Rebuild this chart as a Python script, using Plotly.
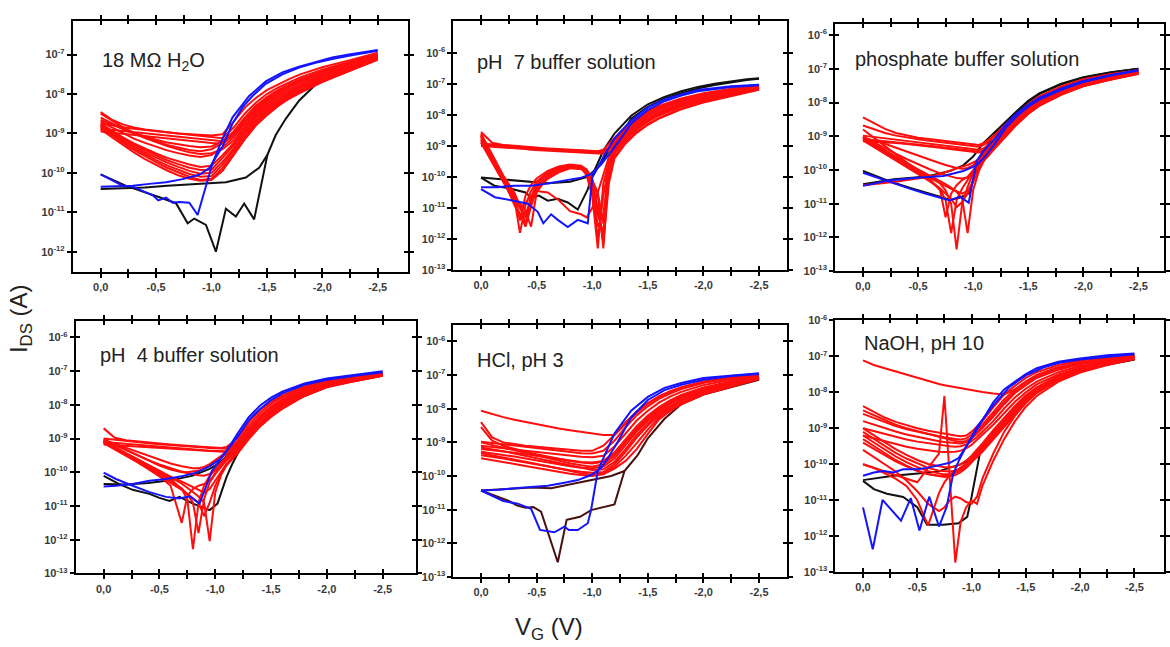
import plotly.graph_objects as go

# ---------------------------------------------------------------------------
# DATA  (gate voltage V_G in V, drain current given as log10(I_DS / A))
# ---------------------------------------------------------------------------

# ---- Panel 1 : 18 MOhm H2O -------------------------------------------------
h2o_vg = [0, -0.1, -0.2, -0.3, -0.4, -0.5, -0.6, -0.7, -0.8, -0.9, -1.0, -1.1, -1.2,
          -1.3, -1.4, -1.5, -1.6, -1.7, -1.8, -2.0, -2.25, -2.5]
h2o_red = [
    [-8.46, -8.65, -8.77, -8.85, -8.90, -8.94, -8.97, -9.00, -9.02, -9.04, -9.05, -9.02, -8.70, -8.35, -8.10, -7.90, -7.75, -7.62, -7.50, -7.32, -7.14, -6.95],
    [-8.75, -8.80, -8.84, -8.88, -8.91, -8.94, -8.97, -9.00, -9.03, -9.06, -9.09, -9.12, -8.85, -8.50, -8.22, -8.00, -7.84, -7.70, -7.58, -7.38, -7.18, -6.98],
    [-8.88, -8.91, -8.94, -8.97, -9.00, -9.03, -9.06, -9.09, -9.12, -9.15, -9.18, -9.20, -8.95, -8.60, -8.30, -8.08, -7.90, -7.76, -7.63, -7.42, -7.21, -7.00],
    [-8.95, -8.98, -9.01, -9.04, -9.07, -9.10, -9.13, -9.16, -9.19, -9.22, -9.24, -9.26, -9.05, -8.70, -8.40, -8.16, -7.97, -7.82, -7.69, -7.47, -7.24, -7.02],
    [-8.60, -8.75, -8.88, -8.99, -9.08, -9.16, -9.23, -9.28, -9.32, -9.35, -9.33, -9.20, -8.98, -8.65, -8.35, -8.12, -7.94, -7.80, -7.67, -7.46, -7.23, -7.01],
    [-8.70, -8.85, -9.00, -9.13, -9.24, -9.34, -9.43, -9.50, -9.56, -9.60, -9.55, -9.35, -9.10, -8.75, -8.45, -8.22, -8.03, -7.88, -7.75, -7.52, -7.27, -7.04],
    [-8.75, -8.93, -9.10, -9.25, -9.39, -9.51, -9.62, -9.71, -9.79, -9.85, -9.82, -9.55, -9.25, -8.88, -8.55, -8.32, -8.12, -7.96, -7.82, -7.58, -7.31, -7.07],
    [-8.80, -8.98, -9.16, -9.33, -9.48, -9.62, -9.74, -9.85, -9.95, -10.02, -10.00, -9.72, -9.38, -9.00, -8.66, -8.42, -8.20, -8.03, -7.89, -7.63, -7.36, -7.10],
    [-8.85, -9.05, -9.24, -9.42, -9.58, -9.73, -9.87, -9.99, -10.10, -10.18, -10.15, -9.88, -9.50, -9.10, -8.75, -8.50, -8.28, -8.10, -7.95, -7.68, -7.40, -7.12],
    [-8.50, -8.68, -8.84, -8.98, -9.10, -9.20, -9.29, -9.36, -9.42, -9.45, -9.40, -9.25, -9.02, -8.70, -8.40, -8.17, -7.98, -7.83, -7.70, -7.49, -7.25, -7.02],
    [-8.78, -8.95, -9.12, -9.28, -9.43, -9.56, -9.68, -9.78, -9.87, -9.93, -9.92, -9.62, -9.30, -8.94, -8.60, -8.37, -8.16, -7.99, -7.85, -7.60, -7.33, -7.08],
    [-8.82, -9.02, -9.20, -9.37, -9.53, -9.68, -9.81, -9.93, -10.03, -10.10, -10.08, -9.80, -9.44, -9.05, -8.70, -8.46, -8.24, -8.06, -7.92, -7.65, -7.38, -7.11],
    [-8.66, -8.78, -8.90, -9.02, -9.12, -9.22, -9.32, -9.40, -9.48, -9.52, -9.50, -9.40, -9.18, -8.82, -8.50, -8.27, -8.07, -7.92, -7.79, -7.55, -7.29, -7.05],
    [-8.90, -9.10, -9.30, -9.48, -9.65, -9.80, -9.94, -10.06, -10.15, -10.20, -10.18, -9.95, -9.56, -9.15, -8.80, -8.54, -8.31, -8.12, -7.97, -7.70, -7.41, -7.13],
]
h2o_black_rev_v = [0, -0.2, -0.4, -0.6, -0.8, -1.0, -1.13, -1.31, -1.43, -1.505, -1.58, -1.67, -1.79, -1.94, -2.09, -2.24, -2.39, -2.5]
h2o_black_rev_e = [-10.41, -10.39, -10.37, -10.33, -10.30, -10.27, -10.24, -10.12, -9.87, -9.54, -9.04, -8.63, -8.17, -7.76, -7.47, -7.26, -7.12, -7.04]
h2o_black_fwd_v = [0, -0.23, -0.53, -0.68, -0.785, -0.845, -0.95, -1.04, -1.13, -1.22, -1.295, -1.385, -1.505]
h2o_black_fwd_e = [-10.04, -10.33, -10.62, -10.77, -11.28, -11.16, -11.32, -12.0, -10.91, -11.11, -10.78, -11.18, -9.54]
h2o_blue_fwd_v = [0, -0.11, -0.2, -0.29, -0.38, -0.47, -0.52, -0.59, -0.65, -0.71, -0.8, -0.875, -1.01, -1.1, -1.19, -1.34, -1.49, -1.64, -1.79, -1.94, -2.09, -2.24, -2.39, -2.5]
h2o_blue_fwd_e = [-10.04, -10.20, -10.33, -10.35, -10.45, -10.57, -10.70, -10.63, -10.76, -10.74, -10.76, -11.07, -9.75, -9.13, -8.59, -8.05, -7.68, -7.45, -7.31, -7.18, -7.07, -7.00, -6.93, -6.88]
h2o_blue_rev_v = [0, -0.14, -0.29, -0.44, -0.59, -0.74, -0.89, -0.98, -1.04, -1.1, -1.19, -1.28, -1.37, -1.49, -1.64, -1.79, -1.94, -2.09, -2.24, -2.39, -2.5]
h2o_blue_rev_e = [-10.35, -10.34, -10.33, -10.28, -10.24, -10.16, -10.05, -9.88, -9.62, -9.33, -8.75, -8.34, -8.05, -7.74, -7.50, -7.33, -7.21, -7.11, -7.03, -6.96, -6.90]

# ---- Panel 2 : pH 7 buffer solution ---------------------------------------
ph7_vg = [0, -0.1, -0.2, -0.3, -0.35, -0.4, -0.45, -0.5, -0.6, -0.7, -0.8, -0.9, -0.95,
          -1.0, -1.05, -1.1, -1.15, -1.2, -1.3, -1.4, -1.5, -1.6, -1.8, -2.0, -2.25, -2.5]
ph7_red = [
    [-8.55, -8.90, -8.97, -9.00, -9.02, -9.04, -9.05, -9.06, -9.08, -9.10, -9.12, -9.14, -9.15, -9.16, -9.17, -9.12, -8.95, -8.75, -8.38, -8.10, -7.88, -7.71, -7.47, -7.30, -7.16, -7.03],
    [-8.92, -8.95, -8.98, -9.01, -9.03, -9.05, -9.07, -9.08, -9.10, -9.12, -9.14, -9.16, -9.17, -9.18, -9.19, -9.18, -9.05, -8.85, -8.45, -8.16, -7.93, -7.75, -7.51, -7.33, -7.19, -7.05],
    [-9.00, -9.02, -9.05, -9.07, -9.09, -9.10, -9.12, -9.13, -9.15, -9.17, -9.19, -9.20, -9.21, -9.22, -9.23, -9.25, -9.15, -8.95, -8.55, -8.24, -8.00, -7.82, -7.56, -7.38, -7.22, -7.08],
    [-8.96, -8.99, -9.02, -9.04, -9.06, -9.08, -9.09, -9.11, -9.13, -9.15, -9.17, -9.19, -9.20, -9.21, -9.22, -9.22, -9.10, -8.90, -8.50, -8.20, -7.96, -7.78, -7.53, -7.35, -7.20, -7.06],
    [-8.60, -9.30, -9.95, -10.50, -10.95, -11.50, -10.80, -10.30, -9.95, -9.75, -9.62, -9.70, -9.95, -10.60, -12.30, -10.20, -9.50, -9.05, -8.65, -8.35, -8.12, -7.93, -7.66, -7.47, -7.28, -7.12],
    [-8.70, -9.40, -10.05, -10.70, -11.80, -10.90, -10.45, -10.15, -9.85, -9.70, -9.65, -9.68, -9.80, -10.20, -10.60, -12.30, -9.80, -9.25, -8.80, -8.48, -8.22, -8.02, -7.74, -7.53, -7.33, -7.15],
    [-8.80, -9.45, -10.10, -10.60, -10.85, -11.10, -11.60, -10.50, -10.00, -9.80, -9.68, -9.72, -9.90, -10.35, -12.00, -10.60, -9.60, -9.15, -8.75, -8.42, -8.18, -7.98, -7.70, -7.50, -7.30, -7.13],
    [-8.90, -9.55, -10.20, -10.80, -11.20, -11.30, -10.70, -10.35, -10.05, -9.85, -9.72, -9.75, -9.85, -10.10, -10.50, -11.50, -10.00, -9.35, -8.88, -8.55, -8.30, -8.10, -7.80, -7.58, -7.37, -7.18],
    [-8.85, -9.50, -10.15, -10.75, -11.00, -10.85, -10.60, -10.45, -10.50, -10.75, -11.10, -11.20, -11.30, -11.00, -10.50, -9.90, -9.35, -9.00, -8.60, -8.30, -8.06, -7.88, -7.61, -7.43, -7.25, -7.10],
    [-8.65, -9.35, -10.00, -10.65, -11.40, -10.60, -10.25, -10.05, -9.80, -9.66, -9.60, -9.64, -9.76, -10.05, -11.20, -11.80, -9.70, -9.20, -8.72, -8.40, -8.16, -7.96, -7.68, -7.48, -7.29, -7.12],
    [-8.75, -9.42, -10.08, -10.90, -11.20, -11.60, -10.95, -10.40, -10.05, -9.82, -9.70, -9.72, -9.85, -10.25, -11.00, -12.10, -10.20, -9.40, -8.92, -8.58, -8.32, -8.12, -7.82, -7.60, -7.39, -7.19],
    [-8.68, -9.38, -10.02, -10.62, -11.00, -11.25, -10.65, -10.20, -9.90, -9.72, -9.64, -9.66, -9.78, -10.15, -11.60, -11.20, -9.65, -9.10, -8.70, -8.44, -8.20, -8.00, -7.72, -7.51, -7.31, -7.14],
]
ph7_black_fwd_v = [0, -0.12, -0.27, -0.4, -0.45, -0.52, -0.6, -0.69, -0.78, -0.87, -0.96, -1.0, -1.05, -1.1, -1.2, -1.35, -1.5, -1.65, -1.8, -1.95, -2.1, -2.25, -2.39, -2.5]
ph7_black_fwd_e = [-10.02, -10.28, -10.38, -10.50, -10.66, -10.60, -10.76, -10.70, -10.82, -11.05, -10.40, -9.95, -9.55, -9.15, -8.60, -8.03, -7.66, -7.42, -7.24, -7.10, -7.00, -6.92, -6.85, -6.82]
ph7_black_rev_v = [0, -0.3, -0.6, -0.8, -0.95, -1.05, -1.15, -1.25, -1.35, -1.5, -1.65, -1.8, -1.95, -2.1, -2.25, -2.39, -2.5]
ph7_black_rev_e = [-10.02, -10.12, -10.20, -10.15, -10.00, -9.70, -9.15, -8.70, -8.12, -7.74, -7.48, -7.30, -7.15, -7.04, -6.95, -6.88, -6.84]
ph7_blue_fwd_v = [0, -0.125, -0.27, -0.42, -0.51, -0.56, -0.63, -0.69, -0.78, -0.87, -0.96, -1.0, -1.05, -1.11, -1.2, -1.35, -1.5, -1.65, -1.8, -1.95, -2.25, -2.5]
ph7_blue_fwd_e = [-10.39, -10.65, -10.75, -10.86, -11.12, -11.49, -11.20, -11.38, -11.61, -11.38, -11.49, -10.02, -9.70, -9.28, -8.76, -8.18, -7.76, -7.50, -7.34, -7.20, -7.08, -7.03]
ph7_blue_rev_v = [0, -0.15, -0.3, -0.45, -0.6, -0.75, -0.9, -0.99, -1.08, -1.17, -1.25, -1.35, -1.5, -1.65, -1.8, -1.95, -2.25, -2.5]
ph7_blue_rev_e = [-10.33, -10.33, -10.28, -10.28, -10.21, -10.12, -10.02, -9.91, -9.60, -9.18, -8.80, -8.28, -7.84, -7.56, -7.38, -7.24, -7.10, -7.05]

# ---- Panel 3 : phosphate buffer solution ----------------------------------
pbs_vg = [0, -0.1, -0.2, -0.3, -0.4, -0.5, -0.6, -0.7, -0.75, -0.8, -0.85, -0.9, -0.95,
          -1.0, -1.05, -1.1, -1.2, -1.3, -1.4, -1.5, -1.6, -1.8, -2.0, -2.25, -2.5]
pbs_red = [
    [-8.44, -8.62, -8.78, -8.90, -8.98, -9.04, -9.08, -9.12, -9.14, -9.16, -9.18, -9.20, -9.22, -9.24, -9.26, -9.20, -8.95, -8.62, -8.32, -8.04, -7.82, -7.52, -7.31, -7.15, -7.04],
    [-8.68, -8.80, -8.90, -8.98, -9.04, -9.09, -9.13, -9.17, -9.19, -9.21, -9.23, -9.25, -9.27, -9.29, -9.31, -9.25, -9.00, -8.68, -8.37, -8.08, -7.85, -7.55, -7.33, -7.17, -7.05],
    [-8.98, -9.02, -9.06, -9.10, -9.14, -9.18, -9.22, -9.26, -9.28, -9.30, -9.32, -9.34, -9.36, -9.38, -9.40, -9.35, -9.08, -8.75, -8.43, -8.14, -7.90, -7.59, -7.36, -7.19, -7.07],
    [-9.08, -9.11, -9.14, -9.17, -9.20, -9.24, -9.28, -9.32, -9.34, -9.36, -9.38, -9.40, -9.42, -9.44, -9.45, -9.42, -9.15, -8.82, -8.50, -8.20, -7.96, -7.64, -7.40, -7.22, -7.09],
    [-9.15, -9.16, -9.18, -9.20, -9.23, -9.26, -9.30, -9.34, -9.36, -9.38, -9.40, -9.42, -9.44, -9.46, -9.48, -9.46, -9.22, -8.88, -8.56, -8.25, -8.00, -7.67, -7.42, -7.24, -7.10],
    [-9.00, -9.18, -9.35, -9.52, -9.68, -9.83, -9.97, -10.10, -10.15, -10.20, -10.24, -10.25, -10.22, -10.10, -9.90, -9.65, -9.25, -8.88, -8.55, -8.26, -8.02, -7.70, -7.46, -7.27, -7.12],
    [-9.05, -9.25, -9.45, -9.64, -9.82, -10.00, -10.18, -10.40, -10.60, -11.00, -12.35, -11.00, -10.50, -10.10, -9.85, -9.60, -9.28, -8.92, -8.60, -8.30, -8.06, -7.74, -7.50, -7.30, -7.14],
    [-9.10, -9.30, -9.50, -9.70, -9.90, -10.08, -10.28, -10.55, -10.90, -11.87, -10.90, -10.55, -10.30, -10.05, -9.80, -9.55, -9.22, -8.90, -8.58, -8.28, -8.05, -7.72, -7.48, -7.29, -7.13],
    [-9.02, -9.22, -9.42, -9.62, -9.80, -9.98, -10.15, -10.32, -10.42, -10.52, -10.65, -10.85, -11.87, -10.60, -10.05, -9.70, -9.32, -8.95, -8.62, -8.32, -8.08, -7.75, -7.50, -7.31, -7.14],
    [-9.05, -9.26, -9.47, -9.67, -9.87, -10.05, -10.22, -10.40, -10.48, -10.56, -10.63, -10.70, -10.62, -10.35, -10.00, -9.72, -9.35, -8.98, -8.64, -8.34, -8.10, -7.77, -7.52, -7.32, -7.15],
    [-9.12, -9.32, -9.52, -9.72, -9.92, -10.12, -10.32, -10.55, -10.70, -10.85, -11.10, -10.95, -10.70, -10.30, -9.95, -9.68, -9.30, -8.94, -8.61, -8.31, -8.07, -7.75, -7.51, -7.31, -7.14],
    [-8.80, -9.05, -9.30, -9.55, -9.78, -10.00, -10.25, -10.60, -11.40, -10.70, -10.45, -10.30, -10.20, -10.00, -9.78, -9.55, -9.20, -8.86, -8.54, -8.25, -8.02, -7.70, -7.47, -7.28, -7.13],
    [-10.45, -10.42, -10.38, -10.35, -10.30, -10.26, -10.20, -10.12, -10.06, -10.00, -9.95, -9.90, -9.85, -9.78, -9.70, -9.55, -9.25, -8.90, -8.58, -8.29, -8.06, -7.74, -7.50, -7.30, -7.14],
    [-9.04, -9.12, -9.22, -9.34, -9.46, -9.58, -9.70, -9.80, -9.85, -9.90, -9.94, -9.96, -9.94, -9.86, -9.72, -9.52, -9.18, -8.84, -8.52, -8.22, -7.98, -7.66, -7.43, -7.25, -7.11],
]
pbs_black_fwd_v = [0, -0.13, -0.28, -0.43, -0.58, -0.7, -0.79, -0.87, -0.96, -1.0, -1.05, -1.1, -1.2, -1.3, -1.4, -1.5, -1.6, -1.8, -2.0, -2.25, -2.5]
pbs_black_fwd_e = [-10.03, -10.20, -10.38, -10.53, -10.68, -10.80, -10.88, -10.83, -10.70, -10.30, -9.80, -9.40, -8.92, -8.57, -8.27, -7.98, -7.75, -7.46, -7.26, -7.11, -7.00]
pbs_black_rev_v = [0, -0.28, -0.58, -0.79, -0.91, -1.0, -1.09, -1.2, -1.3, -1.4, -1.5, -1.6, -1.8, -2.0, -2.25, -2.5]
pbs_black_rev_e = [-10.42, -10.27, -10.19, -10.03, -9.86, -9.60, -9.21, -8.87, -8.53, -8.24, -7.95, -7.73, -7.44, -7.25, -7.10, -7.00]
pbs_blue_fwd_v = [0, -0.13, -0.28, -0.43, -0.58, -0.73, -0.79, -0.88, -0.96, -1.03, -1.09, -1.2, -1.3, -1.4, -1.5, -1.6, -1.8, -2.0, -2.25, -2.5]
pbs_blue_fwd_e = [-10.08, -10.23, -10.40, -10.56, -10.71, -10.86, -10.90, -10.79, -10.97, -9.74, -9.45, -9.07, -8.63, -8.31, -8.07, -7.86, -7.58, -7.36, -7.18, -7.03]
pbs_blue_rev_v = [0, -0.22, -0.49, -0.73, -0.91, -1.03, -1.11, -1.2, -1.3, -1.4, -1.5, -1.6, -1.8, -2.0, -2.25, -2.5]
pbs_blue_rev_e = [-10.47, -10.32, -10.23, -10.18, -10.03, -9.86, -9.60, -9.21, -8.73, -8.39, -8.12, -7.91, -7.62, -7.39, -7.20, -7.05]

# ---- Panel 4 : pH 4 buffer solution ---------------------------------------
ph4_vg = [0, -0.1, -0.2, -0.3, -0.4, -0.5, -0.6, -0.7, -0.75, -0.8, -0.85, -0.9, -0.95,
          -1.0, -1.05, -1.1, -1.2, -1.3, -1.4, -1.5, -1.6, -1.8, -2.0, -2.25, -2.5]
ph4_red = [
    [-8.70, -8.98, -9.05, -9.09, -9.12, -9.15, -9.18, -9.21, -9.22, -9.23, -9.24, -9.25, -9.26, -9.27, -9.28, -9.25, -9.00, -8.52, -8.17, -7.92, -7.72, -7.46, -7.29, -7.17, -7.05],
    [-9.00, -9.04, -9.08, -9.11, -9.14, -9.17, -9.20, -9.23, -9.24, -9.25, -9.26, -9.27, -9.28, -9.29, -9.30, -9.30, -9.10, -8.62, -8.25, -7.98, -7.77, -7.50, -7.32, -7.19, -7.07],
    [-9.10, -9.13, -9.16, -9.19, -9.22, -9.25, -9.28, -9.31, -9.32, -9.33, -9.34, -9.35, -9.36, -9.37, -9.38, -9.38, -9.20, -8.72, -8.33, -8.05, -7.83, -7.54, -7.35, -7.21, -7.08],
    [-9.18, -9.20, -9.22, -9.25, -9.27, -9.30, -9.32, -9.34, -9.35, -9.36, -9.37, -9.38, -9.39, -9.40, -9.41, -9.40, -9.25, -8.80, -8.40, -8.10, -7.87, -7.57, -7.37, -7.22, -7.09],
    [-9.05, -9.20, -9.35, -9.50, -9.64, -9.77, -9.88, -9.98, -10.02, -10.06, -10.09, -10.10, -10.05, -9.90, -9.72, -9.55, -9.20, -8.80, -8.45, -8.17, -7.95, -7.62, -7.40, -7.24, -7.10],
    [-9.10, -9.28, -9.46, -9.64, -9.82, -10.00, -10.20, -10.50, -10.80, -12.28, -10.90, -10.40, -10.10, -9.95, -9.80, -9.60, -9.30, -8.90, -8.55, -8.27, -8.03, -7.68, -7.44, -7.27, -7.12],
    [-9.12, -9.30, -9.48, -9.67, -9.86, -10.05, -10.25, -10.48, -10.65, -10.90, -11.80, -10.80, -10.30, -10.05, -9.85, -9.65, -9.35, -8.95, -8.58, -8.30, -8.06, -7.70, -7.46, -7.28, -7.13],
    [-9.08, -9.25, -9.42, -9.60, -9.78, -9.96, -10.14, -10.34, -10.46, -10.58, -10.72, -10.90, -12.04, -10.60, -10.10, -9.80, -9.45, -9.02, -8.65, -8.36, -8.12, -7.74, -7.48, -7.30, -7.14],
    [-9.06, -9.26, -9.46, -9.68, -9.90, -10.12, -10.40, -11.50, -10.70, -10.50, -10.40, -10.35, -10.25, -10.05, -9.85, -9.62, -9.28, -8.88, -8.52, -8.24, -8.01, -7.66, -7.43, -7.26, -7.11],
    [-9.10, -9.27, -9.45, -9.63, -9.80, -9.97, -10.13, -10.28, -10.36, -10.44, -10.52, -10.60, -10.50, -10.25, -10.00, -9.75, -9.40, -8.98, -8.62, -8.33, -8.09, -7.72, -7.47, -7.29, -7.13],
    [-9.02, -9.18, -9.34, -9.50, -9.65, -9.80, -9.92, -10.00, -10.00, -9.98, -9.95, -9.90, -9.82, -9.70, -9.58, -9.45, -9.12, -8.75, -8.40, -8.13, -7.92, -7.60, -7.38, -7.23, -7.09],
    [-9.14, -9.32, -9.50, -9.70, -9.90, -10.10, -10.30, -10.52, -10.64, -10.76, -10.90, -11.30, -10.90, -10.40, -10.05, -9.78, -9.42, -9.00, -8.62, -8.33, -8.09, -7.72, -7.47, -7.29, -7.13],
    [-9.04, -9.16, -9.28, -9.40, -9.52, -9.64, -9.74, -9.82, -9.86, -9.88, -9.88, -9.84, -9.76, -9.64, -9.52, -9.40, -9.08, -8.70, -8.36, -8.10, -7.90, -7.59, -7.37, -7.22, -7.09],
]
ph4_black_fwd_v = [0, -0.14, -0.26, -0.41, -0.5, -0.59, -0.68, -0.8, -0.89, -0.95, -1.02, -1.1, -1.15, -1.24, -1.4, -1.6, -1.8, -2.05, -2.5]
ph4_black_fwd_e = [-10.11, -10.35, -10.52, -10.64, -10.76, -10.85, -10.73, -10.93, -11.04, -11.12, -10.93, -10.15, -9.77, -9.19, -8.40, -8.05, -7.74, -7.40, -7.08]
ph4_black_rev_v = [0, -0.2, -0.4, -0.6, -0.8, -0.95, -1.05, -1.15, -1.25, -1.4, -1.6, -1.8, -2.0, -2.25, -2.5]
ph4_black_rev_e = [-10.35, -10.36, -10.32, -10.24, -10.10, -9.90, -9.70, -9.35, -8.90, -8.40, -7.95, -7.62, -7.40, -7.22, -7.08]
ph4_blue_fwd_v = [0, -0.11, -0.26, -0.41, -0.56, -0.68, -0.77, -0.86, -0.97, -1.09, -1.2, -1.3, -1.4, -1.5, -1.6, -1.8, -2.0, -2.25, -2.5]
ph4_blue_fwd_e = [-10.01, -10.20, -10.40, -10.59, -10.73, -10.78, -10.71, -10.93, -9.96, -9.43, -8.85, -8.37, -8.03, -7.79, -7.61, -7.37, -7.22, -7.11, -7.01]
ph4_blue_rev_v = [0, -0.11, -0.26, -0.41, -0.56, -0.71, -0.83, -0.95, -1.04, -1.13, -1.2, -1.3, -1.4, -1.5, -1.6, -1.8, -2.0, -2.25, -2.5]
ph4_blue_rev_e = [-10.42, -10.40, -10.35, -10.25, -10.20, -10.11, -10.01, -9.82, -9.62, -9.24, -8.95, -8.46, -8.13, -7.86, -7.66, -7.41, -7.26, -7.14, -7.04]

# ---- Panel 5 : HCl, pH 3 ---------------------------------------------------
hcl_vg = [0, -0.1, -0.2, -0.3, -0.4, -0.5, -0.6, -0.7, -0.8, -0.9, -1.0, -1.1, -1.2,
          -1.3, -1.4, -1.5, -1.6, -1.7, -1.8, -2.0, -2.25, -2.5]
hcl_red = [
    [-8.06, -8.16, -8.25, -8.33, -8.40, -8.47, -8.53, -8.59, -8.64, -8.69, -8.74, -8.78, -8.78, -8.45, -8.12, -7.86, -7.66, -7.50, -7.38, -7.21, -7.07, -6.98],
    [-8.40, -8.85, -9.00, -9.06, -9.10, -9.13, -9.16, -9.19, -9.22, -9.25, -9.25, -9.10, -8.78, -8.40, -8.08, -7.83, -7.63, -7.48, -7.36, -7.19, -7.06, -6.97],
    [-8.98, -9.02, -9.06, -9.10, -9.14, -9.18, -9.22, -9.26, -9.29, -9.32, -9.33, -9.25, -8.95, -8.55, -8.20, -7.93, -7.71, -7.55, -7.42, -7.24, -7.10, -7.00],
    [-9.10, -9.13, -9.17, -9.21, -9.25, -9.29, -9.33, -9.37, -9.40, -9.43, -9.44, -9.40, -9.12, -8.72, -8.35, -8.06, -7.82, -7.64, -7.50, -7.30, -7.14, -7.03],
    [-9.20, -9.23, -9.27, -9.31, -9.35, -9.40, -9.45, -9.50, -9.54, -9.58, -9.60, -9.55, -9.30, -8.90, -8.52, -8.20, -7.95, -7.75, -7.59, -7.37, -7.19, -7.06],
    [-9.28, -9.32, -9.37, -9.42, -9.48, -9.54, -9.60, -9.66, -9.71, -9.75, -9.77, -9.72, -9.48, -9.08, -8.68, -8.35, -8.08, -7.86, -7.68, -7.43, -7.24, -7.09],
    [-9.38, -9.42, -9.48, -9.54, -9.60, -9.66, -9.72, -9.78, -9.83, -9.87, -9.90, -9.88, -9.65, -9.28, -8.86, -8.50, -8.20, -7.97, -7.77, -7.50, -7.28, -7.11],
    [-9.47, -9.52, -9.58, -9.64, -9.70, -9.76, -9.82, -9.88, -9.93, -9.97, -10.00, -9.95, -9.78, -9.55, -9.20, -8.75, -8.32, -8.07, -7.87, -7.58, -7.36, -7.12],
    [-9.00, -9.08, -9.16, -9.24, -9.32, -9.40, -9.48, -9.56, -9.62, -9.68, -9.72, -9.65, -9.40, -9.00, -8.62, -8.30, -8.03, -7.82, -7.65, -7.41, -7.22, -7.08],
    [-8.55, -8.95, -9.10, -9.20, -9.28, -9.35, -9.42, -9.49, -9.55, -9.60, -9.63, -9.58, -9.35, -8.95, -8.58, -8.27, -8.00, -7.80, -7.63, -7.40, -7.21, -7.07],
    [-9.15, -9.20, -9.26, -9.33, -9.40, -9.47, -9.55, -9.63, -9.70, -9.77, -9.82, -9.80, -9.58, -9.20, -8.78, -8.43, -8.14, -7.92, -7.73, -7.47, -7.26, -7.10],
    [-9.32, -9.38, -9.44, -9.50, -9.57, -9.64, -9.71, -9.78, -9.85, -9.92, -9.96, -9.92, -9.72, -9.40, -9.02, -8.62, -8.26, -8.02, -7.82, -7.54, -7.32, -7.11],
]
hcl_black_fwd_v = [0, -0.16, -0.25, -0.32, -0.4, -0.47, -0.54, -0.69, -0.77, -0.89, -0.99, -1.2, -1.29, -1.41, -1.5, -1.65, -1.8, -2.0, -2.25, -2.5]
hcl_black_fwd_e = [-10.43, -10.63, -10.74, -10.87, -10.94, -10.92, -11.06, -12.56, -11.30, -11.21, -11.01, -10.84, -9.85, -9.37, -8.88, -8.30, -7.87, -7.58, -7.36, -7.14]
hcl_black_rev_v = [0, -0.27, -0.45, -0.63, -0.81, -0.99, -1.17, -1.29]
hcl_black_rev_e = [-10.43, -10.38, -10.34, -10.36, -10.24, -10.12, -10.00, -9.85]
hcl_blue_fwd_v = [0, -0.1, -0.2, -0.33, -0.4, -0.45, -0.53, -0.66, -0.75, -0.79, -0.87, -0.96, -0.99, -1.05, -1.1, -1.2, -1.35, -1.5, -1.65, -1.8, -2.0, -2.25, -2.5]
hcl_blue_fwd_e = [-10.43, -10.58, -10.74, -10.82, -10.90, -10.97, -11.60, -11.67, -11.50, -11.60, -11.60, -11.40, -11.00, -9.85, -9.47, -8.74, -8.06, -7.65, -7.38, -7.24, -7.09, -7.01, -6.95]
hcl_blue_rev_v = [0, -0.16, -0.3, -0.45, -0.6, -0.75, -0.87, -0.99, -1.08, -1.14, -1.23, -1.35, -1.5, -1.65, -1.8, -2.0, -2.25, -2.5]
hcl_blue_rev_e = [-10.43, -10.41, -10.36, -10.32, -10.29, -10.20, -10.12, -9.97, -9.76, -9.47, -8.98, -8.26, -7.74, -7.45, -7.29, -7.14, -7.03, -6.97]

# ---- Panel 6 : NaOH, pH 10 -------------------------------------------------
naoh_vg = [0, -0.1, -0.2, -0.3, -0.4, -0.5, -0.6, -0.7, -0.75, -0.8, -0.85, -0.9, -0.95,
           -1.0, -1.05, -1.1, -1.2, -1.3, -1.4, -1.5, -1.6, -1.8, -2.0, -2.25, -2.5]
naoh_red = [
    [-7.11, -7.24, -7.33, -7.42, -7.51, -7.61, -7.70, -7.77, -7.80, -7.83, -7.86, -7.88, -7.91, -7.94, -7.96, -7.99, -8.03, -8.06, -7.92, -7.70, -7.52, -7.30, -7.17, -7.06, -6.98],
    [-8.38, -8.55, -8.70, -8.82, -8.92, -9.00, -9.07, -9.13, -9.16, -9.18, -9.20, -9.22, -9.20, -9.10, -8.95, -8.80, -8.42, -8.06, -7.82, -7.60, -7.44, -7.24, -7.12, -7.01, -6.95],
    [-8.60, -8.72, -8.84, -8.94, -9.03, -9.10, -9.16, -9.22, -9.25, -9.28, -9.30, -9.31, -9.28, -9.18, -9.05, -8.90, -8.55, -8.20, -7.92, -7.70, -7.52, -7.30, -7.17, -7.05, -6.97],
    [-8.80, -8.90, -9.00, -9.09, -9.17, -9.24, -9.30, -9.36, -9.38, -9.40, -9.42, -9.42, -9.38, -9.28, -9.15, -9.00, -8.68, -8.33, -8.02, -7.80, -7.60, -7.37, -7.22, -7.09, -6.99],
    [-9.00, -9.08, -9.16, -9.24, -9.31, -9.37, -9.42, -9.46, -9.48, -9.50, -9.51, -9.50, -9.45, -9.36, -9.24, -9.10, -8.80, -8.45, -8.14, -7.90, -7.70, -7.44, -7.27, -7.12, -7.01],
    [-9.20, -9.28, -9.36, -9.44, -9.51, -9.57, -9.62, -9.65, -9.66, -9.66, -9.65, -9.62, -9.56, -9.46, -9.33, -9.18, -8.90, -8.57, -8.26, -8.00, -7.78, -7.50, -7.31, -7.15, -7.03],
    [-9.10, -9.30, -9.50, -9.68, -9.84, -9.98, -10.10, -10.18, -10.20, -10.20, -10.18, -10.12, -10.02, -9.88, -9.70, -9.52, -9.18, -8.82, -8.48, -8.15, -7.90, -7.57, -7.35, -7.17, -7.05],
    [-9.30, -9.50, -9.70, -9.88, -10.04, -10.18, -10.28, -10.34, -10.35, -10.34, -10.30, -10.22, -10.10, -9.95, -9.78, -9.62, -9.30, -8.95, -8.60, -8.22, -7.95, -7.62, -7.38, -7.19, -7.06],
    [-9.00, -9.20, -9.40, -9.58, -9.74, -9.88, -9.99, -10.06, -10.08, -10.08, -10.06, -10.00, -9.90, -9.76, -9.60, -9.42, -9.05, -8.70, -8.38, -8.08, -7.86, -7.54, -7.33, -7.16, -7.04],
    [-9.40, -9.58, -9.76, -9.92, -10.06, -10.18, -10.27, -10.32, -10.32, -10.28, -10.20, -10.10, -9.98, -9.82, -9.65, -9.48, -9.12, -8.76, -8.44, -8.12, -7.88, -7.56, -7.35, -7.18, -7.05],
    [-10.00, -10.10, -10.20, -10.30, -10.40, -10.50, -10.10, -9.70, -8.10, -10.40, -12.73, -11.60, -11.20, -11.00, -11.10, -10.60, -9.90, -9.30, -8.80, -8.40, -8.10, -7.70, -7.45, -7.24, -7.08],
    [-10.00, -10.10, -10.25, -10.40, -10.60, -11.00, -11.70, -10.80, -10.50, -10.30, -10.20, -10.10, -10.00, -9.90, -9.80, -9.65, -9.30, -8.95, -8.62, -8.28, -8.00, -7.65, -7.40, -7.20, -7.06],
    [-9.60, -9.80, -10.00, -10.20, -10.45, -10.75, -11.10, -11.30, -11.20, -11.00, -10.90, -10.95, -11.05, -11.10, -10.90, -10.40, -9.70, -9.10, -8.65, -8.30, -8.02, -7.66, -7.41, -7.21, -7.06],
    [-8.50, -8.64, -8.78, -8.90, -9.00, -9.08, -9.16, -9.24, -9.28, -9.32, -9.35, -9.37, -9.35, -9.26, -9.12, -8.96, -8.62, -8.28, -7.98, -7.76, -7.57, -7.34, -7.20, -7.07, -6.98],
    [-9.20, -9.40, -9.60, -9.78, -9.94, -10.08, -10.19, -10.26, -10.28, -10.27, -10.24, -10.16, -10.06, -9.92, -9.75, -9.58, -9.24, -8.88, -8.54, -8.18, -7.92, -7.60, -7.37, -7.18, -7.05],
]
naoh_black_fwd_v = [0, -0.1, -0.22, -0.37, -0.5, -0.59, -0.74, -0.88, -0.96, -1.0, -1.08, -1.2, -1.35, -1.51, -1.66, -1.81, -2.0, -2.27, -2.5]
naoh_black_fwd_e = [-10.46, -10.69, -10.82, -10.91, -11.19, -11.68, -11.68, -11.64, -11.46, -10.91, -9.64, -9.10, -8.56, -8.10, -7.79, -7.58, -7.38, -7.20, -7.09]
naoh_black_rev_v = [0, -0.28, -0.43, -0.68, -0.89, -1.0, -1.08, -1.17, -1.3, -1.5, -1.8, -2.0, -2.5]
naoh_black_rev_e = [-10.44, -10.32, -10.28, -10.21, -10.01, -9.87, -9.66, -9.28, -8.85, -8.15, -7.60, -7.38, -7.09]
naoh_blue_fwd_v = [0, -0.09, -0.18, -0.35, -0.44, -0.52, -0.61, -0.7, -0.77, -0.83, -0.88, -0.95, -1.0, -1.1, -1.2, -1.3, -1.4, -1.5, -1.6, -1.8, -2.0, -2.25, -2.5]
naoh_blue_fwd_e = [-11.20, -12.36, -10.99, -11.57, -10.94, -11.84, -10.90, -11.73, -11.19, -10.28, -9.92, -9.51, -9.28, -8.78, -8.28, -7.92, -7.70, -7.49, -7.33, -7.15, -7.06, -6.97, -6.92]
naoh_blue_rev_v = [0, -0.1, -0.19, -0.28, -0.37, -0.5, -0.59, -0.71, -0.8, -0.88, -0.96, -1.05, -1.2, -1.35, -1.51, -1.66, -1.81, -2.0, -2.27, -2.5]
naoh_blue_rev_e = [-10.32, -10.23, -10.19, -10.23, -10.14, -10.14, -10.10, -10.01, -9.96, -9.83, -9.46, -8.96, -8.36, -7.85, -7.51, -7.31, -7.18, -7.09, -7.00, -6.94]

# ---- labels ----------------------------------------------------------------
panel_titles = ["18 MΩ H<sub>2</sub>O", "pH&nbsp; 7 buffer solution", "phosphate buffer solution",
                "pH&nbsp; 4 buffer solution", "HCl, pH 3", "NaOH, pH 10"]
x_tick_vals = [0, -0.5, -1.0, -1.5, -2.0, -2.5]
x_tick_text = ["0,0", "-0,5", "-1,0", "-1,5", "-2,0", "-2,5"]
x_minor_vals = [-0.25, -0.75, -1.25, -1.75, -2.25]
x_title = "V<sub>G</sub> (V)"
y_title = "I<sub>DS</sub> (A)"

# ---------------------------------------------------------------------------
# FIGURE
# ---------------------------------------------------------------------------
W, H = 1170, 647
FONT = "Liberation Sans, Arial, Helvetica, sans-serif"
RED, BLUE, BLACK, BROWN = "#ff0d0d", "#1414ff", "#111111", "#4a1010"
TICKCOL = "#3a3a3a"

# frame of each panel in pixels (left, right, top, bottom), x range, log10 y range
frames = {1: (73, 409, 13, 270), 2: (455, 790, 13, 268), 3: (838, 1168, 16.7, 269),
          4: (76, 417, 320, 578), 5: (455, 790, 324, 581.7), 6: (838.3, 1168, 319.3, 576.7)}
xranges = {1: [0.252, -2.77], 2: [0.248, -2.754], 3: [0.253, -2.733],
           4: [0.25, -2.795], 5: [0.248, -2.754], 6: [0.254, -2.773]}
yranges = {1: [-12.52, -6.14], 2: [-13, -4.97], 3: [-13, -5.68],
           4: [-13, -5.52], 5: [-13, -5.515], 6: [-13, -6]}
ydecs = {1: list(range(-12, -6)), 2: list(range(-13, -5)), 3: list(range(-13, -5)),
         4: list(range(-13, -5)), 5: list(range(-13, -5)), 6: list(range(-13, -5))}
title_pos = {1: (100, 55), 2: (477, 55), 3: (856, 52), 4: (98, 355), 5: (477, 360), 6: (865, 342)}

panels = {
    1: dict(vg=h2o_vg, red=h2o_red, black=[(h2o_black_rev_v, h2o_black_rev_e), (h2o_black_fwd_v, h2o_black_fwd_e)],
            blue=[(h2o_blue_fwd_v, h2o_blue_fwd_e), (h2o_blue_rev_v, h2o_blue_rev_e)], bcol=BLACK),
    2: dict(vg=ph7_vg, red=ph7_red, black=[(ph7_black_rev_v, ph7_black_rev_e), (ph7_black_fwd_v, ph7_black_fwd_e)],
            blue=[(ph7_blue_fwd_v, ph7_blue_fwd_e), (ph7_blue_rev_v, ph7_blue_rev_e)], bcol=BLACK),
    3: dict(vg=pbs_vg, red=pbs_red, black=[(pbs_black_rev_v, pbs_black_rev_e), (pbs_black_fwd_v, pbs_black_fwd_e)],
            blue=[(pbs_blue_fwd_v, pbs_blue_fwd_e), (pbs_blue_rev_v, pbs_blue_rev_e)], bcol=BLACK),
    4: dict(vg=ph4_vg, red=ph4_red, black=[(ph4_black_rev_v, ph4_black_rev_e), (ph4_black_fwd_v, ph4_black_fwd_e)],
            blue=[(ph4_blue_fwd_v, ph4_blue_fwd_e), (ph4_blue_rev_v, ph4_blue_rev_e)], bcol=BLACK),
    5: dict(vg=hcl_vg, red=hcl_red, black=[(hcl_black_rev_v, hcl_black_rev_e), (hcl_black_fwd_v, hcl_black_fwd_e)],
            blue=[(hcl_blue_fwd_v, hcl_blue_fwd_e), (hcl_blue_rev_v, hcl_blue_rev_e)], bcol=BROWN),
    6: dict(vg=naoh_vg, red=naoh_red, black=[(naoh_black_rev_v, naoh_black_rev_e), (naoh_black_fwd_v, naoh_black_fwd_e)],
            blue=[(naoh_blue_fwd_v, naoh_blue_fwd_e), (naoh_blue_rev_v, naoh_blue_rev_e)], bcol=BLACK),
}

fig = go.Figure()


def ax(prefix, n):
    return prefix if n == 1 else f"{prefix}{n}"


def add_line(i, v, e, color, width):
    assert len(v) == len(e), (i, len(v), len(e))
    fig.add_trace(go.Scatter(
        x=v, y=[10.0 ** k for k in e], mode="lines",
        line=dict(color=color, width=width),
        xaxis=ax("x", i), yaxis=ax("y", i),
        hoverinfo="skip", showlegend=False))


for i, p in panels.items():
    for v, e in p["black"]:
        add_line(i, v, e, p["bcol"], 2)
    for row in p["red"]:
        add_line(i, p["vg"], row, RED, 2.0)
    for v, e in p["blue"]:
        add_line(i, v, e, BLUE, 2)

layout = {}
annotations = []
for i in range(1, 7):
    l, r, t, b = frames[i]
    j = i + 6  # overlay axes that draw the inner half of the crossing ticks
    xtext = [f"<b>{s}</b>" for s in x_tick_text]
    ytext = [f"<b>10<sup>{d}</sup></b>" for d in ydecs[i]]
    yvals = [10.0 ** d for d in ydecs[i]]
    common = dict(tickwidth=1.5, tickcolor="black", showgrid=False, zeroline=False, mirror="allticks")
    layout[ax("xaxis", i)] = dict(
        domain=[l / W, r / W], range=xranges[i], anchor=ax("y", i),
        tickmode="array", tickvals=x_tick_vals, ticktext=xtext,
        ticks="outside", ticklen=4,
        minor=dict(tickmode="array", tickvals=x_minor_vals, ticks="outside",
                   ticklen=3, tickwidth=1.5, tickcolor="black"),
        showline=True, linecolor="black", linewidth=2,
        tickfont=dict(family=FONT, size=11, color=TICKCOL), **common)
    layout[ax("yaxis", i)] = dict(
        type="log", domain=[1 - b / H, 1 - t / H], range=yranges[i], anchor=ax("x", i),
        tickmode="array", tickvals=yvals, ticktext=ytext,
        ticks="outside", ticklen=4,
        showline=True, linecolor="black", linewidth=2,
        tickfont=dict(family=FONT, size=11, color=TICKCOL), **common)
    layout[f"xaxis{j}"] = dict(
        overlaying=ax("x", i), anchor=ax("y", i), side="bottom", range=xranges[i],
        tickmode="array", tickvals=x_tick_vals, ticks="inside", ticklen=4,
        minor=dict(tickmode="array", tickvals=x_minor_vals, ticks="inside",
                   ticklen=3, tickwidth=1.5, tickcolor="black"),
        showticklabels=False, showline=False, **common)
    layout[f"yaxis{j}"] = dict(
        overlaying=ax("y", i), anchor=ax("x", i), side="left", type="log", range=yranges[i],
        tickmode="array", tickvals=yvals, ticks="inside", ticklen=4,
        showticklabels=False, showline=False, **common)
    # empty helper traces so that the overlay axes are drawn
    fig.add_trace(go.Scatter(x=[], y=[], xaxis=f"x{j}", yaxis=ax("y", i), hoverinfo="skip", showlegend=False))
    fig.add_trace(go.Scatter(x=[], y=[], xaxis=ax("x", i), yaxis=f"y{j}", hoverinfo="skip", showlegend=False))

    tx, ty = title_pos[i]
    annotations.append(dict(text=panel_titles[i - 1], x=tx / W, y=1 - ty / H, xref="paper", yref="paper",
                            xanchor="left", yanchor="middle", showarrow=False,
                            font=dict(family=FONT, size=20, color="#222222")))

annotations.append(dict(text=y_title, x=20 / W, y=1 - 317 / H, xref="paper", yref="paper",
                        textangle=-90, xanchor="center", yanchor="middle", showarrow=False,
                        font=dict(family=FONT, size=24, color="#222222")))
annotations.append(dict(text=x_title, x=551 / W, y=1 - 634 / H, xref="paper", yref="paper",
                        xanchor="center", yanchor="middle", showarrow=False,
                        font=dict(family=FONT, size=24, color="#222222")))

fig.update_layout(
    width=W, height=H, margin=dict(l=0, r=0, t=0, b=0),
    paper_bgcolor="white", plot_bgcolor="white", showlegend=False,
    annotations=annotations, **layout)

fig.write_html("out.html", config={"displayModeBar": False},
               post_script="document.body.style.margin='0px';document.body.style.overflow='hidden';")
